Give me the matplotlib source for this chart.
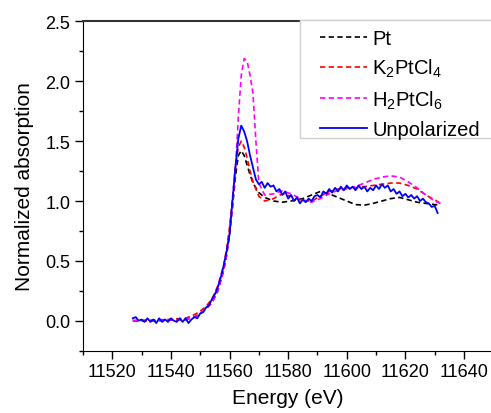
import numpy as np
import matplotlib
matplotlib.use("Agg")
import matplotlib.pyplot as plt
from matplotlib.ticker import MultipleLocator
from matplotlib.patches import Rectangle

plt.rcParams['font.family'] = ['Liberation Sans', 'DejaVu Sans']
plt.rcParams['mathtext.default'] = 'regular'

# Pt foil and K2PtCl4 reference (same energy grid)
e_ref = [11527, 11535, 11545, 11548, 11550, 11552, 11554, 11556, 11558, 11559,
         11560, 11561, 11562, 11563, 11564, 11565, 11566, 11567, 11568, 11570,
         11572, 11575, 11578, 11581, 11585, 11588, 11591, 11594, 11597, 11600,
         11603, 11606, 11609, 11612, 11615, 11618, 11621, 11624, 11627, 11630, 11632]
mu_pt = [0.0, 0.0, 0.01, 0.03, 0.06, 0.10, 0.15, 0.25, 0.42, 0.55,
         0.72, 0.95, 1.20, 1.38, 1.42, 1.38, 1.30, 1.22, 1.15, 1.07,
         1.03, 1.00, 0.99, 1.00, 1.02, 1.05, 1.08, 1.06, 1.03, 1.00,
         0.97, 0.965, 0.98, 1.00, 1.02, 1.03, 1.01, 0.99, 0.98, 0.97, 0.965]
mu_k2 = [0.0, 0.005, 0.02, 0.05, 0.08, 0.12, 0.18, 0.29, 0.46, 0.60,
         0.78, 1.02, 1.28, 1.45, 1.50, 1.45, 1.36, 1.25, 1.16, 1.04,
         1.00, 1.02, 1.06, 1.04, 1.00, 1.00, 1.04, 1.08, 1.10, 1.11,
         1.11, 1.12, 1.13, 1.14, 1.15, 1.15, 1.13, 1.10, 1.05, 1.01, 0.98]

# H2PtCl6
e_h2 = [11527, 11535, 11545, 11548, 11550, 11552, 11554, 11556, 11558, 11559,
        11560, 11561, 11562, 11563, 11564, 11565, 11566, 11567, 11568, 11569,
        11570, 11572, 11575, 11578, 11581, 11585, 11588, 11591, 11594, 11597,
        11600, 11603, 11606, 11609, 11612, 11615, 11618, 11621, 11624, 11627,
        11630, 11632]
mu_h2 = [0.0, 0.0, 0.01, 0.03, 0.06, 0.10, 0.15, 0.25, 0.42, 0.55,
         0.72, 0.95, 1.25, 1.70, 2.05, 2.19, 2.17, 2.05, 1.90, 1.50,
         1.15, 1.05, 1.06, 1.085, 1.06, 1.01, 0.99, 1.02, 1.06, 1.09,
         1.10, 1.12, 1.15, 1.18, 1.20, 1.21, 1.20, 1.16, 1.11, 1.05,
         1.00, 0.98]

# unpolarized sample, 1 eV steps from 11527 eV
e_un = np.arange(11527, 11632)
mu_un = [0.02, 0.03, 0.00, 0.01, -0.01, 0.02, -0.01, 0.01, -0.02, 0.02,
         -0.01, 0.01, -0.01, 0.02, 0.00, -0.01, 0.02, -0.01, 0.02, -0.02,
         0.01, 0.03, 0.02, 0.06, 0.07, 0.11, 0.13, 0.18, 0.22, 0.28,
         0.36, 0.46, 0.58, 0.72, 1.00, 1.28, 1.52, 1.63, 1.58, 1.50,
         1.38, 1.28, 1.18, 1.14, 1.16, 1.11, 1.15, 1.12, 1.13, 1.08,
         1.10, 1.05, 1.08, 1.02, 1.05, 1.00, 1.03, 0.98, 1.01, 0.99,
         1.02, 1.00, 1.04, 1.05, 1.03, 1.08, 1.06, 1.10, 1.07, 1.11,
         1.08, 1.12, 1.09, 1.13, 1.10, 1.12, 1.09, 1.13, 1.10, 1.12,
         1.08, 1.11, 1.09, 1.13, 1.10, 1.14, 1.11, 1.13, 1.08, 1.10,
         1.06, 1.08, 1.04, 1.06, 1.03, 1.05, 1.02, 1.04, 1.00, 1.02,
         0.99, 0.98, 0.95, 0.96, 0.90]

fig = plt.figure(figsize=(4.91, 4.14), dpi=100)
ax = fig.add_axes([0.169, 0.1507, 0.8357, 0.795])

dash = (3.2, 2)
ax.plot(e_ref, mu_pt, color='black', lw=1.2, dashes=dash, label='Pt')
ax.plot(e_ref, mu_k2, color='red', lw=1.2, dashes=dash, label='K$_2$PtCl$_4$')
ax.plot(e_h2, mu_h2, color='magenta', lw=1.2, dashes=dash, label='H$_2$PtCl$_6$')
ax.plot(e_un, mu_un, color='blue', lw=1.3, label='Unpolarized')

ax.set_xlim(11510, 11650)
ax.set_ylim(-0.25, 2.5)
ax.set_xticks([11520, 11540, 11560, 11580, 11600, 11620, 11640])
ax.xaxis.set_minor_locator(MultipleLocator(10))
ax.yaxis.set_major_locator(MultipleLocator(0.5))
ax.yaxis.set_minor_locator(MultipleLocator(0.25))
ax.yaxis.set_major_formatter(plt.FormatStrFormatter('%.1f'))
ax.tick_params(which='major', direction='out', length=6, width=1, labelsize=13, pad=3)
ax.tick_params(which='minor', direction='out', length=3, width=1)
ax.spines['right'].set_visible(False)
ax.spines['top'].set_linewidth(1.5)
ax.spines['top'].set_color('#333333')

ax.set_xlabel('Energy (eV)', fontsize=15, labelpad=6)
ax.set_ylabel('Normalized absorption', fontsize=15, labelpad=8)

# legend box drawn by hand, it runs past the right edge of the figure
box = Rectangle((0.611, 0.664), 0.40, 0.285, transform=fig.transFigure,
                facecolor='white', edgecolor='#d0d0d0', lw=1.0, zorder=5)
fig.patches.append(box)
leg = fig.legend(*ax.get_legend_handles_labels(), loc='upper left',
                 bbox_to_anchor=(0.652, 0.928), fontsize=14.5, frameon=False,
                 handlelength=2.35, handletextpad=0.25, labelspacing=0.45,
                 borderaxespad=0, borderpad=0)
leg.set_zorder(6)

fig.savefig('out.png', dpi=100)
